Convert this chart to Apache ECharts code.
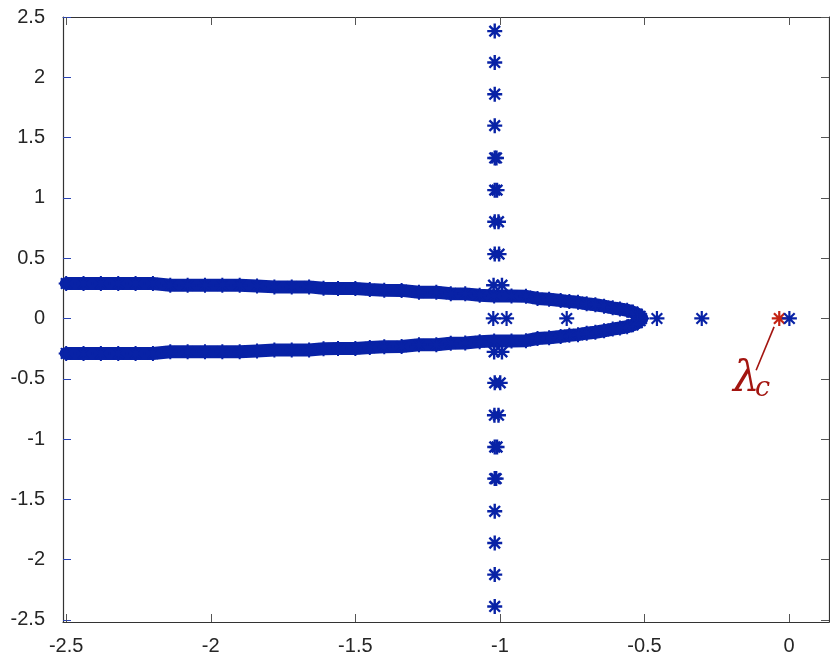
<!DOCTYPE html>
<html>
<head>
<meta charset="utf-8">
<script src="https://cdn.jsdelivr.net/npm/echarts@6/dist/echarts.min.js"></script>
<style>
html, body { margin: 0; padding: 0; background: #fff; }
#main { width: 830px; height: 663px; }
</style>
</head>
<body>
<div id="main"></div>
<script>
var xTicks = [-2.5, -2, -1.5, -1, -0.5, 0];
var yTicks = [-2.5, -2, -1.5, -1, -0.5, 0, 0.5, 1, 1.5, 2, 2.5];

// parabola-like band, upper half (left -> tip)
var branchUpper = [
	[-2.50, 0.290], [-2.44, 0.290], [-2.38, 0.290], [-2.32, 0.290], [-2.26, 0.290], [-2.20, 0.290],
	[-2.14, 0.276], [-2.08, 0.276], [-2.02, 0.276], [-1.96, 0.276], [-1.90, 0.276], [-1.84, 0.270],
	[-1.78, 0.262], [-1.72, 0.262], [-1.66, 0.262], [-1.61, 0.251], [-1.56, 0.249], [-1.50, 0.249],
	[-1.45, 0.240], [-1.40, 0.235], [-1.34, 0.233], [-1.28, 0.218], [-1.22, 0.218], [-1.17, 0.206],
	[-1.12, 0.204], [-1.07, 0.192], [-1.02, 0.187], [-0.96, 0.187], [-0.91, 0.184], [-0.87, 0.166],
	[-0.83, 0.160], [-0.79, 0.149], [-0.76, 0.140], [-0.73, 0.134], [-0.70, 0.122], [-0.67, 0.114],
	[-0.64, 0.102], [-0.61, 0.088], [-0.585, 0.079], [-0.56, 0.068], [-0.54, 0.053], [-0.525, 0.036],
	[-0.515, 0.018], [-0.510, 0]
];
// lower half (tip -> left)
var branchLower = [
	[-0.515, -0.018], [-0.525, -0.036], [-0.54, -0.053], [-0.56, -0.068], [-0.585, -0.079], [-0.61, -0.088],
	[-0.64, -0.102], [-0.67, -0.114], [-0.70, -0.122], [-0.73, -0.134], [-0.76, -0.140], [-0.79, -0.149],
	[-0.83, -0.160], [-0.87, -0.166], [-0.91, -0.184], [-0.96, -0.187], [-1.02, -0.187], [-1.07, -0.192],
	[-1.12, -0.204], [-1.17, -0.206], [-1.22, -0.218], [-1.28, -0.218], [-1.34, -0.233], [-1.40, -0.235],
	[-1.45, -0.240], [-1.50, -0.249], [-1.56, -0.249], [-1.61, -0.251], [-1.66, -0.262], [-1.72, -0.262],
	[-1.78, -0.262], [-1.84, -0.270], [-1.90, -0.276], [-1.96, -0.276], [-2.02, -0.276], [-2.08, -0.276],
	[-2.14, -0.276], [-2.20, -0.290], [-2.26, -0.290], [-2.32, -0.290], [-2.38, -0.290], [-2.44, -0.290],
	[-2.50, -0.290]
];
// vertical column near Re = -1
var columnPts = [
	[-1.018, 2.383], [-1.018, 2.123], [-1.018, 1.860], [-1.018, 1.599], [-1.018, 1.331], [-1.018, 1.064],
	[-1.018, 0.802], [-1.018, 0.534], [-1.022, 0.276],
	[-1.012, 1.331], [-1.010, 1.064], [-1.005, 0.802], [-1.003, 0.534], [-0.993, 0.276],
	[-1.020, -0.277], [-1.018, -0.534], [-1.019, -0.802], [-1.018, -1.066], [-1.018, -1.328], [-1.018, -1.599],
	[-1.018, -1.862], [-1.018, -2.124], [-1.018, -2.388],
	[-0.993, -0.277], [-0.999, -0.534], [-1.005, -0.802], [-1.010, -1.066], [-1.013, -1.328]
];
// points on the real axis
var realPts = [[-1.023, 0], [-0.977, 0], [-0.769, 0], [-0.457, 0], [-0.302, 0], [0.001, 0]];
var lambdaC = [[-0.034, 0]];

var blue = '#0822a6';
var red = '#c42414';
var darkRed = '#a31510';
var star = 'path://M0,-10L0,10M-10,0L10,0M-7.07,-7.07L7.07,7.07M-7.07,7.07L7.07,-7.07';

var chart = echarts.init(document.getElementById('main'));

function axisCommon(extra) {
	var a = {
		type: 'value',
		axisLine: { show: true, onZero: false, lineStyle: { color: '#333', width: 1.2 } },
		axisTick: { show: true, inside: true, length: 8, lineStyle: { color: '#555', width: 1 } },
		splitLine: { show: false },
		axisLabel: { show: false }
	};
	for (var k in extra) a[k] = extra[k];
	return a;
}

var option = {
	animation: false,
	backgroundColor: '#fff',
	grid: { left: 63, top: 17, right: 1, bottom: 41, containLabel: false },
	xAxis: [
		axisCommon({
			min: -2.511, max: 0.138, position: 'bottom',
			axisTick: { show: true, inside: true, length: 8, customValues: xTicks, lineStyle: { color: '#555' } },
			axisLabel: { show: true, customValues: xTicks, margin: 14, fontSize: 20, color: '#262626', fontFamily: 'Liberation Sans' }
		}),
		axisCommon({
			min: -2.511, max: 0.138, position: 'top',
			axisTick: { show: true, inside: true, length: 8, customValues: xTicks, lineStyle: { color: '#555' } }
		})
	],
	yAxis: [
		axisCommon({
			min: -2.517, max: 2.5, position: 'left',
			axisTick: { show: true, inside: true, length: 8, customValues: yTicks, lineStyle: { color: '#2a44b4' } },
			axisLabel: { show: true, customValues: yTicks, margin: 18, fontSize: 20, color: '#262626', fontFamily: 'Liberation Sans' }
		}),
		axisCommon({
			min: -2.517, max: 2.5, position: 'right',
			axisTick: { show: true, inside: true, length: 8, customValues: yTicks, lineStyle: { color: '#555' } }
		})
	],
	series: [
		{
			name: 'band',
			type: 'line',
			data: branchUpper.concat(branchLower),
			symbol: star,
			symbolSize: 15,
			showSymbol: true,
			showAllSymbol: true,
			lineStyle: { color: blue, width: 13, join: 'round', cap: 'round' },
			itemStyle: { color: 'none', borderColor: blue, borderWidth: 2 },
			emphasis: { disabled: true },
			z: 2
		},
		{
			name: 'column',
			type: 'scatter',
			data: columnPts,
			symbol: star,
			symbolSize: 15,
			itemStyle: { color: 'none', borderColor: blue, borderWidth: 2.4, opacity: 1 },
			emphasis: { disabled: true },
			z: 3
		},
		{
			name: 'lambda_c',
			type: 'scatter',
			data: lambdaC,
			symbol: star,
			symbolSize: 15,
			itemStyle: { color: 'none', borderColor: red, borderWidth: 2.2, opacity: 1 },
			emphasis: { disabled: true },
			markLine: {
				silent: true,
				symbol: ['none', 'none'],
				label: { show: false },
				lineStyle: { color: darkRed, width: 1.6, type: 'solid' },
				data: [[{ coord: [-0.052, -0.07] }, { coord: [-0.114, -0.429] }]]
			},
			z: 3
		},
		{
			name: 'real',
			type: 'scatter',
			data: realPts,
			symbol: star,
			symbolSize: 15,
			itemStyle: { color: 'none', borderColor: blue, borderWidth: 2.2, opacity: 1 },
			emphasis: { disabled: true },
			z: 4
		}
	]
};
chart.setOption(option);

// lambda_c label, placed from data coordinates
var pL = chart.convertToPixel({ seriesIndex: 0 }, [-0.194, -0.338]);
var pC = chart.convertToPixel({ seriesIndex: 0 }, [-0.118, -0.47]);
chart.setOption({
	graphic: [
		{
			type: 'text', x: pL[0], y: pL[1], z: 10,
			style: { text: 'λ', fill: darkRed, font: 'italic 42px "DejaVu Serif"', textAlign: 'left', textVerticalAlign: 'top' }
		},
		{
			type: 'text', x: pC[0], y: pC[1], z: 10,
			style: { text: 'c', fill: darkRed, font: 'italic 27px "DejaVu Serif"', textAlign: 'left', textVerticalAlign: 'top' }
		}
	]
});
</script>
</body>
</html>
